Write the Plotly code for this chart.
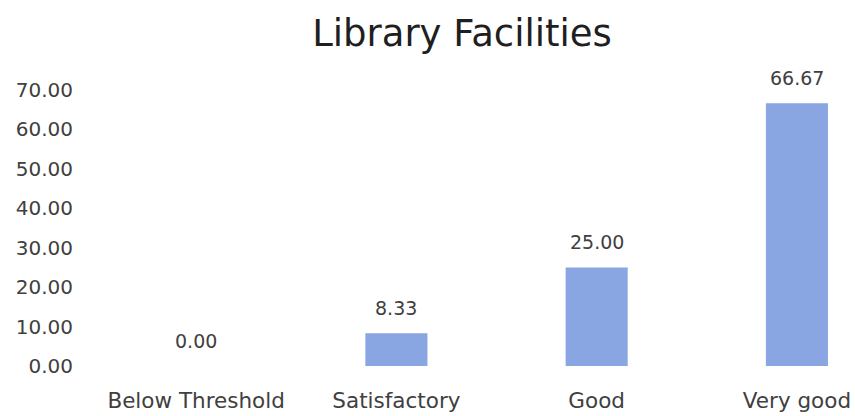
import plotly.graph_objects as go

title_text = "Library Facilities"
categories = ["Below Threshold", "Satisfactory", "Good", "Very good"]
values = [0.00, 8.33, 25.00, 66.67]
y_ticks = [0, 10, 20, 30, 40, 50, 60, 70]
y_tick_labels = [f"{v:.2f}" for v in y_ticks]

font_family = "'DejaVu Sans', sans-serif"
bar_color = "#89A6E2"
text_color = "#404040"

fig = go.Figure()
fig.add_trace(go.Bar(
    x=categories,
    y=values,
    marker=dict(color=bar_color, line=dict(width=0)),
    width=0.31,
    hoverinfo="skip",
))

for c, v in zip(categories, values):
    fig.add_annotation(
        x=c, y=v, text=f"{v:.2f}", showarrow=False,
        yanchor="middle", yshift=25,
        font=dict(family=font_family, size=19, color=text_color),
    )

fig.update_layout(
    width=855, height=416,
    margin=dict(l=96, r=0, t=89.5, b=50, autoexpand=False),
    paper_bgcolor="white", plot_bgcolor="white",
    showlegend=False,
    title=dict(
        text=title_text, x=462 / 855, xanchor="center",
        y=1 - 33 / 416, yanchor="middle",
        font=dict(family=font_family, size=37, color="#1f1f1f"),
    ),
    xaxis=dict(
        range=[-0.5, 3.29], showgrid=False, zeroline=False, showline=False,
        ticks="", tickfont=dict(family=font_family, size=21.5, color=text_color),
        ticklabelstandoff=19,
    ),
    yaxis=dict(
        range=[0, 70], tickvals=y_ticks, ticktext=y_tick_labels,
        showgrid=False, zeroline=False, showline=False, ticks="",
        tickfont=dict(family=font_family, size=20, color=text_color),
        ticklabelstandoff=22,
    ),
)

fig.write_html(
    "out.html",
    config={"displayModeBar": False, "staticPlot": True},
    post_script="document.body.style.margin='0';document.body.style.overflow='hidden';",
)
